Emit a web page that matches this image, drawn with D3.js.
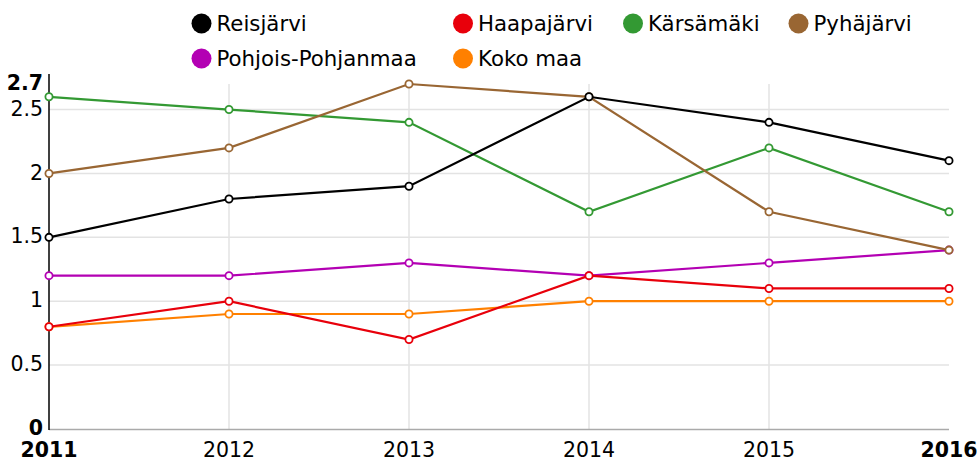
<!DOCTYPE html>
<html>
<head>
<meta charset="utf-8">
<script src="https://cdn.jsdelivr.net/npm/d3@7/dist/d3.min.js"></script>
<style>
  body { margin: 0; background: #fff; }
  svg { display: block; font-family: "DejaVu Sans", sans-serif; }
</style>
</head>
<body>
<svg id="chart" width="977" height="462"></svg>
<script>
const years = [2011, 2012, 2013, 2014, 2015, 2016];
const seriesNames = ["Reisjärvi", "Haapajärvi", "Kärsämäki", "Pyhäjärvi", "Pohjois-Pohjanmaa", "Koko maa"];
const seriesColors = ["#000000", "#e8000b", "#339933", "#996633", "#b300b3", "#ff8000"];
const reisjarvi = [1.5, 1.8, 1.9, 2.6, 2.4, 2.1];
const haapajarvi = [0.8, 1.0, 0.7, 1.2, 1.1, 1.1];
const karsamaki = [2.6, 2.5, 2.4, 1.7, 2.2, 1.7];
const pyhajarvi = [2.0, 2.2, 2.7, 2.6, 1.7, 1.4];
const pohjoisPohjanmaa = [1.2, 1.2, 1.3, 1.2, 1.3, 1.4];
const kokoMaa = [0.8, 0.9, 0.9, 1.0, 1.0, 1.0];
const yTicks = [0, 0.5, 1, 1.5, 2, 2.5, 2.7];

const seriesValues = [reisjarvi, haapajarvi, karsamaki, pyhajarvi, pohjoisPohjanmaa, kokoMaa];
// Draw order: later series on top
const drawOrder = [5, 4, 1, 2, 3, 0];

const svg = d3.select("#chart");
const plotLeft = 49, plotRight = 949, plotTop = 84, plotBottom = 429;

const x = d3.scalePoint().domain(years).range([plotLeft, plotRight]);
const y = d3.scaleLinear().domain([0, 2.7]).range([plotBottom, plotTop]);

// Grid lines
svg.append("g").selectAll("line").data(years.slice(1, -1)).join("line")
  .attr("x1", d => x(d)).attr("x2", d => x(d))
  .attr("y1", plotTop).attr("y2", plotBottom)
  .attr("stroke", "#e3e3e3").attr("stroke-width", 1.5);
svg.append("g").selectAll("line").data(yTicks.filter(t => t > 0 && t < 2.7)).join("line")
  .attr("x1", plotLeft).attr("x2", plotRight)
  .attr("y1", d => y(d)).attr("y2", d => y(d))
  .attr("stroke", "#e3e3e3").attr("stroke-width", 1.5);

// X axis baseline
svg.append("line")
  .attr("x1", plotLeft).attr("x2", plotRight)
  .attr("y1", plotBottom + 0.5).attr("y2", plotBottom + 0.5)
  .attr("stroke", "#aaaaaa").attr("stroke-width", 1.5);
// Y axis line
svg.append("line")
  .attr("x1", plotLeft).attr("x2", plotLeft)
  .attr("y1", plotTop - 10).attr("y2", plotBottom + 1)
  .attr("stroke", "#000").attr("stroke-width", 1.5);

// Y tick labels
svg.append("g").selectAll("text").data(yTicks).join("text")
  .attr("x", plotLeft - 6)
  .attr("y", d => y(d))
  .attr("dy", "0.3em")
  .attr("text-anchor", "end")
  .attr("font-size", 20.5)
  .attr("font-weight", d => (d === 0 || d === 2.7) ? "bold" : "normal")
  .attr("fill", "#000")
  .text(d => d);

// X tick labels
svg.append("g").selectAll("text").data(years).join("text")
  .attr("x", x)
  .attr("y", 457)
  .attr("text-anchor", "middle")
  .attr("font-size", 20.5)
  .attr("font-weight", (d, i) => (i === 0 || i === years.length - 1) ? "bold" : "normal")
  .attr("fill", "#000")
  .text(d => d);

// Lines and markers
const line = d3.line().x((d, i) => x(years[i])).y(d => y(d));
drawOrder.forEach(si => {
  const g = svg.append("g");
  g.append("path")
    .datum(seriesValues[si])
    .attr("d", line)
    .attr("fill", "none")
    .attr("stroke", seriesColors[si])
    .attr("stroke-width", 2.2);
  g.selectAll("circle").data(seriesValues[si]).join("circle")
    .attr("cx", (d, i) => x(years[i]))
    .attr("cy", d => y(d))
    .attr("r", 3.6)
    .attr("fill", "#fff")
    .attr("stroke", seriesColors[si])
    .attr("stroke-width", 1.8);
});

// Legend
const legendPos = [[201.5, 23.5], [463, 23.5], [633, 23.5], [798.5, 23.5], [201.5, 58.5], [463, 58.5]];
const legend = svg.append("g").selectAll("g").data(seriesNames).join("g")
  .attr("transform", (d, i) => `translate(${legendPos[i][0]},${legendPos[i][1]})`);
legend.append("circle")
  .attr("r", 10)
  .attr("fill", (d, i) => seriesColors[i]);
legend.append("text")
  .attr("x", 15)
  .attr("dy", "0.36em")
  .attr("font-size", 21.3)
  .attr("fill", "#000")
  .text(d => d);
</script>
</body>
</html>
